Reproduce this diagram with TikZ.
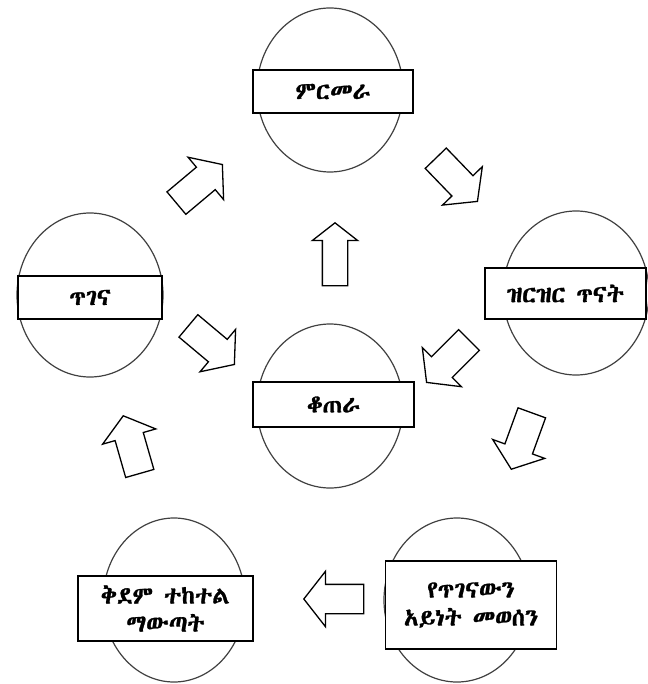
\documentclass[tikz,border=0pt]{standalone}
\usepackage{fontspec}
\usetikzlibrary{shapes.geometric,shapes.arrows}
\IfFontExistsTF{Abyssinica SIL}{\newfontfamily\ethfont[FakeBold=1.2]{Abyssinica SIL}}{%
  \IfFontExistsTF{Noto Sans Ethiopic}{\newfontfamily\ethfont[FakeBold=1.2]{Noto Sans Ethiopic}}{%
    \IfFontExistsTF{FreeSerif}{\newfontfamily\ethfont[FakeBold=1.2]{FreeSerif}}{%
      \newfontfamily\ethfont{DejaVu Sans}}}}

\begin{document}
\begin{tikzpicture}[x=1pt,y=-1pt]
        \useasboundingbox (0,0) rectangle (647,684);
        \begin{scope}[every node/.style={ellipse,draw=black!75,line width=1.2pt,
                      minimum width=146pt,minimum height=164pt,inner sep=0pt}]
            \node (insp)   at (330, 90) {} ;
            \node (study)  at (576, 293) {} ;
            \node (repair) at (90, 295) {} ;
            \node (count)  at (330, 406) {} ;
            \node (order)  at (174, 600) [minimum width=142pt] {} ;
            \node (decide) at (457, 600) {} ;
        \end{scope}
        \begin{scope}[every node/.style={rectangle,draw=black,line width=1.1pt,fill=white,
                      align=center,inner sep=0pt,font=\ethfont\fontsize{24}{28}\selectfont}]
            \node (inspL)   [minimum width=160pt, minimum height=43pt] at (333, 91.5) {ምርመራ} ;
            \node (studyL)  [minimum width=161pt, minimum height=51pt] at (565.5, 293.5) {ዝርዝር ጥናት} ;
            \node (repairL) [minimum width=144pt, minimum height=43pt] at (90, 297.5) {ጥገና} ;
            \node (countL)  [minimum width=161pt, minimum height=45pt] at (333.5, 404.5) {ቆጠራ} ;
            \node (orderL)  [minimum width=175pt, minimum height=65pt] at (165.5, 608.5) {ቅደም ተከተል\\ማውጣት} ;
            \node (decideL) [minimum width=171pt, minimum height=88pt] at (471, 605) {የጥገናውን\\አይነት መወሰን} ;
        \end{scope}

        \begin{scope}[every node/.style={single arrow,draw=black,line width=1.3pt,anchor=tip,
                      inner xsep=0pt,inner ysep=14pt,minimum height=60pt,
                      single arrow head extend=13pt,single arrow tip angle=104}]
            \node (repair2insp)  [rotate=40]   at (223, 164) {} ;
            \node (insp2study)   [rotate=-46]  at (478, 202) {} ;
            \node (count2insp)   [rotate=90, inner ysep=12pt, single arrow head extend=10pt,
                                  minimum height=63pt] at (335, 222) {} ;
            \node (study2count)  [rotate=225]  at (426, 383) {} ;
            \node (repair2count) [rotate=-40]  at (235, 365) {} ;
            \node (study2decide) [rotate=-110] at (511, 470) {} ;
            \node (decide2order) [rotate=180]  at (303, 599) {} ;
            \node (order2repair) [rotate=106]  at (123, 415) {} ;
        \end{scope}
    \end{tikzpicture}
\end{document}
